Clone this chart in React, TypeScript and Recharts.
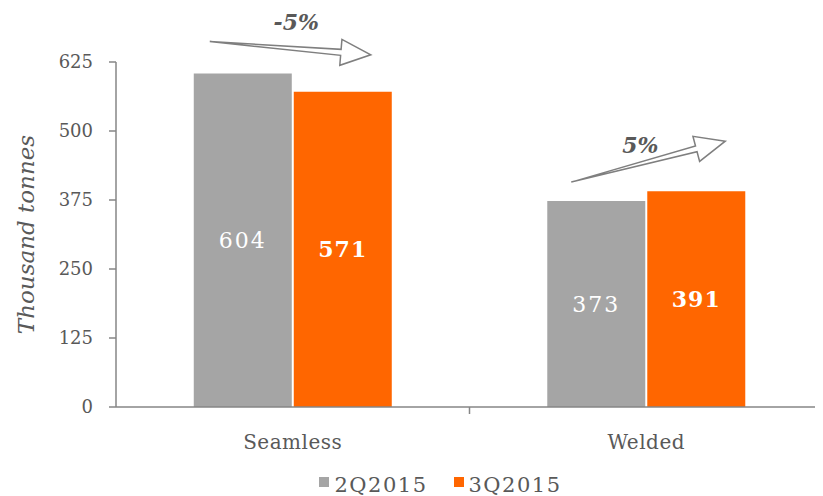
import { BarChart, Bar, XAxis, YAxis, Legend, LabelList } from "recharts";

const categories = ["Seamless", "Welded"];
const q2Values = [604, 373];
const q3Values = [571, 391];
const changeLabels = ["-5%", "5%"];
const yTicks = [0, 125, 250, 375, 500, 625];
const seriesNames = ["2Q2015", "3Q2015"];

const GRAY = "#a5a5a5";
const ORANGE = "#ff6600";
const TEXT = "#595959";
const AXIS = "#868686";
const FONT = "'DejaVu Serif', Georgia, serif";

// arrow placement relative to the pair of bars (start over gray, end over orange)
const arrowStyle = [
  { sx: 16, sy: -32, ex: -21, ey: -37, tx: 6, ty: -12 },
  { sx: 24, sy: -19, ex: -20, ey: -50, tx: -8, ty: 12 },
];

const data = categories.map((name, i) => ({
  name,
  q2: q2Values[i],
  q3: q3Values[i],
  change: changeLabels[i],
}));

function Arrow(props: any) {
  const { x, y, width, height, value, index } = props;
  const st = arrowStyle[index];
  const perUnit = height / value;
  const grayVal = q2Values[index];
  const grayX = x - 2 - width;
  const grayTop = y + height - grayVal * perUnit;
  const x0 = grayX + st.sx;
  const y0 = grayTop + st.sy;
  const x1 = x + width + st.ex;
  const y1 = y + st.ey;
  const dx = x1 - x0;
  const dy = y1 - y0;
  const len = Math.sqrt(dx * dx + dy * dy);
  const ux = dx / len;
  const uy = dy / len;
  const nx = -uy;
  const ny = ux;
  const h = 30;
  const H = 13;
  const w = 3;
  const p = (a: number, b: number) => `${x0 + ux * a + nx * b},${y0 + uy * a + ny * b}`;
  const pts = [p(0, 0), p(len - h, w), p(len - h, H), p(len, 0), p(len - h, -H), p(len - h, -w)].join(" ");
  return (
    <g>
      <polygon points={pts} fill="#fff" stroke="#7f7f7f" strokeWidth={1.5} strokeLinejoin="miter" />
      <text
        x={(x0 + x1) / 2 + st.tx}
        y={Math.min(y0, y1) + st.ty}
        textAnchor="middle"
        fontFamily={FONT}
        fontStyle="italic"
        fontWeight="bold"
        fontSize={22}
        fill={TEXT}
      >
        {changeLabels[index]}
      </text>
    </g>
  );
}

// category label plus the divider tick between categories (Excel style)
function CategoryTick(props: any) {
  const { x, y, payload, index, visibleTicksCount } = props;
  const half = payload.offset || 0;
  return (
    <g>
      {index < visibleTicksCount - 1 && (
        <line x1={x + half} x2={x + half} y1={y - 8} y2={y - 1} stroke={AXIS} strokeWidth={1.5} />
      )}
      <text x={x} y={y} dy={19} textAnchor="middle" dominantBaseline="hanging" fill={TEXT} fontSize={20} fontFamily={FONT} letterSpacing={0.5}>
        {payload.value}
      </text>
    </g>
  );
}

function LegendBox() {
  return (
    <div style={{ display: "flex", justifyContent: "center", gap: 26, fontFamily: FONT, fontSize: 21, letterSpacing: 1.5, color: TEXT, paddingLeft: 50 }}>
      {seriesNames.map((n, i) => (
        <span key={n} style={{ display: "flex", alignItems: "center", gap: 5 }}>
          <span style={{ width: 10, height: 10, background: i === 0 ? GRAY : ORANGE, display: "inline-block", marginTop: -6 }} />
          {n}
        </span>
      ))}
    </div>
  );
}

export default function App() {
  return (
    <BarChart
      width={815}
      height={488}
      data={data}
      margin={{ top: 54, right: 0, left: 0, bottom: 0 }}
      barCategoryGap="22%"
      barGap={2}
    >
      <XAxis
        dataKey="name"
        stroke={AXIS}
        strokeWidth={1.5}
        tickLine={false}
        height={52}
        tick={<CategoryTick />}
      />
      <YAxis
        domain={[0, 625]}
        ticks={yTicks}
        interval={0}
        width={108}
        stroke={AXIS}
        strokeWidth={1.5}
        tickSize={7}
        tickMargin={16}
        tick={{ fill: TEXT, fontSize: 18, fontFamily: FONT }}
        label={{
          value: "Thousand tonnes",
          angle: -90,
          position: "insideLeft",
          offset: 18,
          style: { fill: TEXT, fontSize: 23, fontFamily: FONT, fontStyle: "italic", textAnchor: "middle" },
        }}
      />
      <Legend verticalAlign="bottom" height={37} content={<LegendBox />} wrapperStyle={{ bottom: -14 }} />
      <Bar dataKey="q2" name={seriesNames[0]} fill={GRAY} isAnimationActive={false}>
        <LabelList dataKey="q2" position="center" fill="#fff" fontSize={22} letterSpacing={2} fontFamily={FONT} />
      </Bar>
      <Bar dataKey="q3" name={seriesNames[1]} fill={ORANGE} isAnimationActive={false}>
        <LabelList dataKey="q3" position="center" fill="#fff" fontSize={22} letterSpacing={1} fontWeight="bold" fontFamily={FONT} />
        <LabelList dataKey="q3" content={<Arrow />} />
      </Bar>
    </BarChart>
  );
}
